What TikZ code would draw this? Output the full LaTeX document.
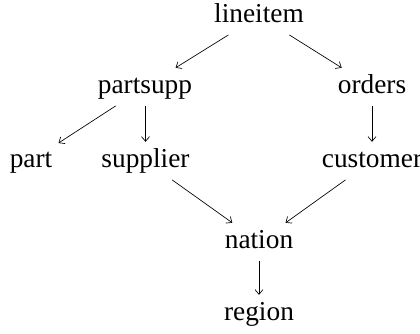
\documentclass[tikz,border=0pt]{standalone}
\usepackage{fontspec}
\setmainfont{Liberation Serif}
\usetikzlibrary{arrows.meta}
\begin{document}
\begin{tikzpicture}[x=0.75pt, y=-0.75pt,
  tbl/.style={font=\fontsize{20.5}{24}\selectfont, text height=14.2pt, text depth=5pt, inner sep=4.5pt, anchor=base},
  dep/.style={draw, line width=0.5pt, -{Straight Barb[length=3.5pt,width=6pt]}}]
  \useasboundingbox (0,0) rectangle (420,333);
  % table nodes placed by their baselines
  \node[tbl] (lineitem) at (259,22) {lineitem};
  \node[tbl] (partsupp) at (145,93) {partsupp};
  \node[tbl] (orders)   at (372,93) {orders};
  \node[tbl] (part)     at (31,167) {part};
  \node[tbl] (supplier) at (145.5,167) {supplier};
  \node[tbl] (customer) at (372,167) {customer};
  \node[tbl] (nation)   at (259,248) {nation};
  \node[tbl] (region)   at (259,320) {region};
  % foreign-key dependencies
  \draw[dep] (lineitem) -- (partsupp);
  \draw[dep] (lineitem) -- (orders);
  \draw[dep] (partsupp) -- (part);
  \draw[dep] (partsupp.south -| supplier) -- (supplier);
  \draw[dep] (orders) -- (customer);
  \draw[dep] (supplier) -- (nation);
  \draw[dep] (customer) -- (nation);
  \draw[dep] (nation) -- (region);
\end{tikzpicture}
\end{document}
